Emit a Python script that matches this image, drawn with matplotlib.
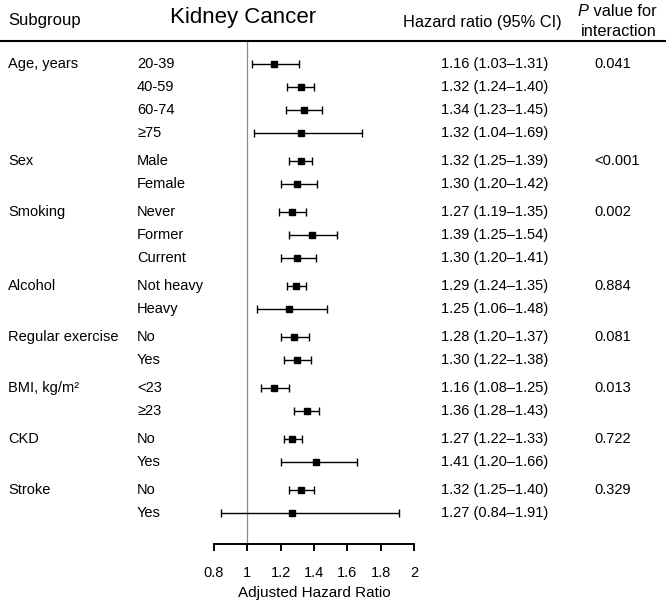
import matplotlib
matplotlib.use("Agg")
import matplotlib.pyplot as plt
from matplotlib.lines import Line2D
from matplotlib.transforms import blended_transform_factory

plt.rcParams['font.family'] = ['Liberation Sans', 'DejaVu Sans']

# data
groups = ["Age, years", "Sex", "Smoking", "Alcohol", "Regular exercise",
          "BMI, kg/m\u00b2", "CKD", "Stroke"]
subgroups = [["20-39", "40-59", "60-74", "\u226575"],
             ["Male", "Female"],
             ["Never", "Former", "Current"],
             ["Not heavy", "Heavy"],
             ["No", "Yes"],
             ["<23", "\u226523"],
             ["No", "Yes"],
             ["No", "Yes"]]
hr = [1.16, 1.32, 1.34, 1.32, 1.32, 1.30, 1.27, 1.39, 1.30,
      1.29, 1.25, 1.28, 1.30, 1.16, 1.36, 1.27, 1.41, 1.32, 1.27]
ci_low = [1.03, 1.24, 1.23, 1.04, 1.25, 1.20, 1.19, 1.25, 1.20,
          1.24, 1.06, 1.20, 1.22, 1.08, 1.28, 1.22, 1.20, 1.25, 0.84]
ci_high = [1.31, 1.40, 1.45, 1.69, 1.39, 1.42, 1.35, 1.54, 1.41,
           1.35, 1.48, 1.37, 1.38, 1.25, 1.43, 1.33, 1.66, 1.40, 1.91]
p_values = ["0.041", "<0.001", "0.002", "0.884", "0.081", "0.013", "0.722", "0.329"]
xticks = [0.8, 1, 1.2, 1.4, 1.6, 1.8, 2]

W, H = 666, 605
fig = plt.figure(figsize=(W / 100, H / 100), dpi=100)

# row layout (pixel units, top-down)
ys = []
group_y = []
y = 64
for subs in subgroups:
    group_y.append(y)
    for s in subs:
        ys.append(y)
        y += 23
    y += 5

ax = fig.add_axes([214 / W, (H - 544) / H, 200 / W, (544 - 41) / H])
ax.set_xlim(0.8, 2.0)
ax.set_ylim(544, 41)
for sp in ["top", "right", "left"]:
    ax.spines[sp].set_visible(False)
ax.spines["bottom"].set_linewidth(1.4)
ax.set_yticks([])
ax.set_xticks(xticks)
ax.set_xticklabels([f"{t:g}" for t in xticks])
ax.tick_params(axis="x", length=5, width=1.4, pad=10.5, labelsize=10.5)
ax.set_xlabel("Adjusted Hazard Ratio", fontsize=11, labelpad=5)

ax.axvline(1, color="#8a8a8a", lw=0.9)

x_err = [[h - l for h, l in zip(hr, ci_low)], [u - h for h, u in zip(hr, ci_high)]]
ax.errorbar(hr, ys, xerr=x_err, fmt="s", color="black", ms=4.8,
            elinewidth=1.0, capsize=3, capthick=1.0, clip_on=False)

tr = blended_transform_factory(fig.transFigure, ax.transData)
fs = 10.5
for g, gy, p in zip(groups, group_y, p_values):
    ax.text(8 / W, gy, g, transform=tr, fontsize=fs, va="center", ha="left")
    ax.text(594 / W, gy, p, transform=tr, fontsize=fs, va="center", ha="left")
i = 0
for subs in subgroups:
    for s in subs:
        ax.text(137 / W, ys[i], s, transform=tr, fontsize=fs, va="center", ha="left")
        ax.text(441 / W, ys[i], f"{hr[i]:.2f} ({ci_low[i]:.2f}\u2013{ci_high[i]:.2f})",
                transform=tr, fontsize=fs, va="center", ha="left")
        i += 1

# header
fig.text(8 / W, 1 - 21 / H, "Subgroup", fontsize=12, va="center", ha="left")
fig.text(243 / W, 1 - 17 / H, "Kidney Cancer", fontsize=16, va="center", ha="center")
fig.text(403 / W, 1 - 22 / H, "Hazard ratio (95% CI)", fontsize=11.8, va="center", ha="left")
pt = fig.text(578 / W, 1 - 11 / H, "P", fontsize=11.8, style="italic", va="center", ha="left")
ax.annotate(" value for", xy=(1, 0.5), xycoords=pt, fontsize=11.8, va="center", ha="left")
fig.text(619 / W, 1 - 31 / H, "interaction", fontsize=11.8, va="center", ha="center")

fig.add_artist(Line2D([0, 1], [1 - 41 / H, 1 - 41 / H], transform=fig.transFigure,
                      color="black", lw=1.5))

fig.savefig("out.png", dpi=100)
